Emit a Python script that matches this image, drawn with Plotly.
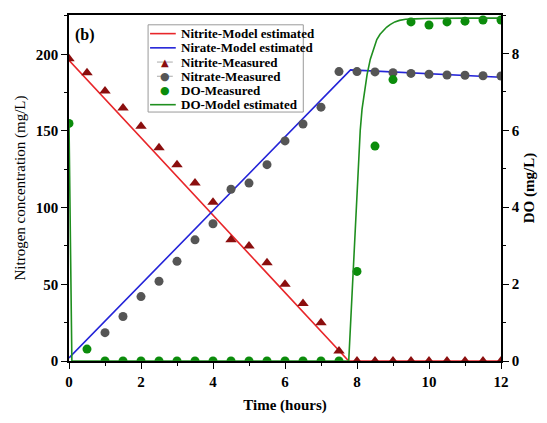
import plotly.graph_objects as go

# ---- measured data ----
t_meas = [0, 0.5, 1, 1.5, 2, 2.5, 3, 3.5, 4, 4.5, 5, 5.5, 6, 6.5, 7, 7.5,
          8, 8.5, 9, 9.5, 10, 10.5, 11, 11.5, 12]
nitrite_meas = [197, 188, 176, 165, 153, 139, 128, 116, 103.5, 79, 75, 64, 50, 37.5, 25, 6.5,
                0, 0, 0, 0, 0, 0, 0, 0, 0]
t_nitrate = [1, 1.5, 2, 2.5, 3, 3.5, 4, 4.5, 5, 5.5, 6, 6.5, 7, 7.5,
             8, 8.5, 9, 9.5, 10, 10.5, 11, 11.5, 12]
nitrate_meas = [18.5, 29, 42, 52, 65, 79, 89.5, 112, 116, 128, 143.5, 154.5, 165.5, 188.7,
                188.7, 188.5, 188, 187.5, 187, 186.5, 186.3, 186, 185.8]
do_meas = [6.18, 0.31, 0, 0, 0, 0, 0, 0, 0, 0, 0, 0, 0, 0, 0, 0,
           2.33, 5.59, 7.32, 8.82, 8.74, 8.82, 8.84, 8.87, 8.87]

# ---- model curves ----
t_nitrite_model = [0, 7.77, 12]
nitrite_model = [196, 0, 0]
t_nitrate_model = [0, 7.82, 12]
nitrate_model = [2, 189.8, 185]
t_do_model = [0, 0.08, 7.77, 7.85, 7.93, 8.0, 8.05, 8.09, 8.14, 8.2, 8.28, 8.37, 8.46, 8.55,
              8.64, 8.73, 8.82, 8.92, 9.05, 9.18, 9.35, 9.6, 9.9, 11, 12]
do_model = [6.2, 0, 0, 1.5, 3.0, 4.35, 5.3, 6.0, 6.55, 7.0, 7.45, 7.85, 8.13, 8.36,
            8.5, 8.6, 8.68, 8.75, 8.82, 8.86, 8.89, 8.9, 8.91, 8.92, 8.92]

RED = "#e8262a"
BLUE = "#2424d8"
DARKRED = "#8b0e0e"
GRAY = "#555555"
GREEN_M = "#0b8c0b"
GREEN_L = "#1f8f1f"
FONT = "Liberation Serif"

fig = go.Figure()
fig.add_trace(go.Scatter(x=t_nitrite_model, y=nitrite_model, mode="lines",
                         line=dict(color=RED, width=1.6), name="Nitrite-Model estimated"))
fig.add_trace(go.Scatter(x=t_nitrate_model, y=nitrate_model, mode="lines",
                         line=dict(color=BLUE, width=1.6), name="Nirate-Model estimated"))
fig.add_trace(go.Scatter(x=t_meas, y=nitrite_meas, mode="markers",
                         marker=dict(symbol="triangle-up", size=10, color=DARKRED),
                         name="Nitrite-Measured"))
fig.add_trace(go.Scatter(x=t_nitrate, y=nitrate_meas, mode="markers",
                         marker=dict(symbol="circle", size=9, color=GRAY),
                         name="Nitrate-Measured"))
fig.add_trace(go.Scatter(x=t_meas, y=do_meas, mode="markers", yaxis="y2",
                         marker=dict(symbol="circle", size=9, color=GREEN_M),
                         name="DO-Measured"))
fig.add_trace(go.Scatter(x=t_do_model, y=do_model, mode="lines", yaxis="y2",
                         line=dict(color=GREEN_L, width=1.6),
                         name="DO-Model estimated"))

# ---- legend box with compact rows ----
X0, Y0, W, H = 69, 15, 437, 353


def px(x):
    return (x - X0) / W


def py(y):
    return (Y0 + H - y) / H


shapes = [dict(type="rect", xref="paper", yref="paper", x0=px(149), x1=px(306),
               y0=py(25), y1=py(114), line=dict(color="#9a9a9a", width=1),
               fillcolor="white", layer="above")]
annotations = []
entries = [
    ("Nitrite-Model estimated", "line", RED, None),
    ("Nirate-Model estimated", "line", BLUE, None),
    ("Nitrite-Measured", "marker", DARKRED, "▲"),
    ("Nitrate-Measured", "marker", GRAY, "●"),
    ("DO-Measured", "dot", GREEN_M, "●"),
    ("DO-Model estimated", "line", GREEN_L, None),
]
row_y = [34, 48.5, 63, 77.5, 92, 106.5]
for (label, kind, color, glyph), yy in zip(entries, row_y):
    if kind == "line":
        shapes.append(dict(type="line", xref="paper", yref="paper", x0=px(151), x1=px(177),
                           y0=py(yy), y1=py(yy), line=dict(color=color, width=1.6),
                           layer="above"))
    else:
        if kind == "marker":
            shapes.append(dict(type="line", xref="paper", yref="paper", x0=px(158), x1=px(174),
                               y0=py(yy), y1=py(yy), line=dict(color="#aaaaaa", width=1),
                               layer="above"))
        annotations.append(dict(xref="paper", yref="paper", x=px(166), y=py(yy),
                                text=glyph, showarrow=False,
                                font=dict(family="DejaVu Sans", size=10 if glyph == "▲" else 11,
                                          color=color),
                                xanchor="center", yanchor="middle"))
    annotations.append(dict(xref="paper", yref="paper", x=px(180), y=py(yy),
                            text="<b>%s</b>" % label, showarrow=False,
                            font=dict(family=FONT, size=13, color="black"),
                            xanchor="left", yanchor="middle"))

annotations.append(dict(xref="paper", yref="paper", x=px(73), y=py(35),
                        text="<b>(b)</b>", showarrow=False,
                        font=dict(family=FONT, size=16, color="black"),
                        xanchor="left", yanchor="middle"))

axis_common = dict(showline=True, linecolor="black", linewidth=1.5, ticks="outside",
                   ticklen=6, tickwidth=1.3, tickcolor="black", showgrid=False,
                   zeroline=False, tickfont=dict(family=FONT, size=15, color="black"))

fig.update_layout(
    width=547, height=423,
    margin=dict(l=X0, r=547 - X0 - W, t=Y0, b=423 - Y0 - H),
    paper_bgcolor="white", plot_bgcolor="white",
    showlegend=False,
    shapes=shapes, annotations=annotations,
    xaxis=dict(range=[0, 12], tick0=0, dtick=2, mirror=True,
               minor=dict(ticks="outside", dtick=1, ticklen=3, tickcolor="black"),
               tickprefix="<b>", ticksuffix="</b>",
               title=dict(text="<b>Time (hours)</b>", standoff=11,
                          font=dict(family=FONT, size=15, color="black")),
               **axis_common),
    yaxis=dict(range=[0, 225.6], tick0=0, dtick=50,
               minor=dict(ticks="outside", dtick=25, ticklen=3, tickcolor="black"),
               tickprefix="<b>", ticksuffix="</b>",
               title=dict(text="Nitrogen concentration (mg/L)", standoff=7,
                          font=dict(family=FONT, size=15, color="black")),
               **axis_common),
    yaxis2=dict(range=[0, 9.0], tick0=0, dtick=2, overlaying="y", side="right",
                minor=dict(ticks="outside", dtick=1, ticklen=3, tickcolor="black"),
                tickprefix="<b>", ticksuffix="</b>",
                title=dict(text="<b>DO (mg/L)</b>", standoff=5,
                           font=dict(family=FONT, size=15, color="black")),
                **axis_common),
)

fig.write_html("out.html")
